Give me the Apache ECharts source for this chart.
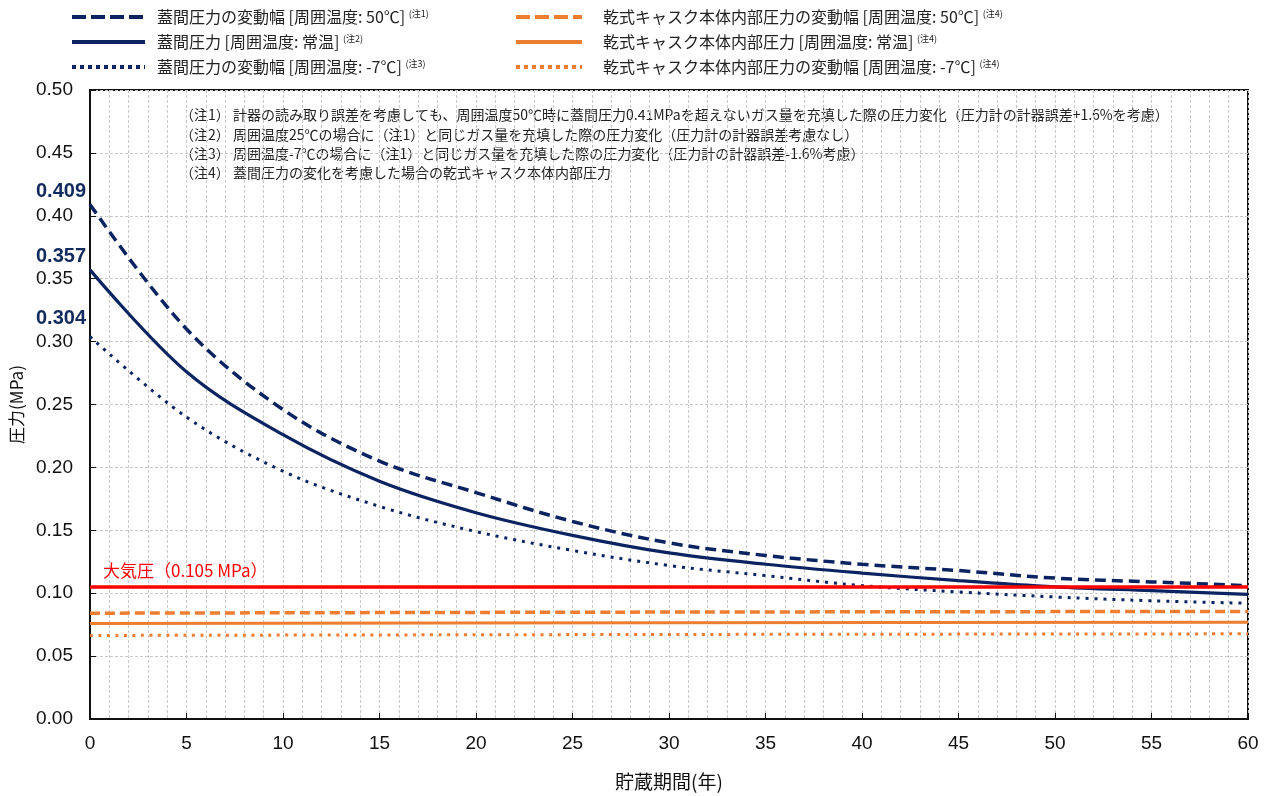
<!DOCTYPE html>
<html>
<head>
<meta charset="utf-8">
<script src="https://cdn.jsdelivr.net/npm/echarts@6/dist/echarts.min.js"></script>
<style>
html,body{margin:0;padding:0;background:#fff;}
#main{width:1275px;height:796px;}
</style>
</head>
<body>
<div id="main"></div>
<script>
// ---- data ----
const years = [0, 5, 10, 15, 20, 25, 30, 35, 40, 45, 50, 55, 60];
const lidHigh = [0.409, 0.310, 0.246, 0.205, 0.180, 0.157, 0.140, 0.130, 0.123, 0.118, 0.112, 0.109, 0.106];
const lidNormal = [0.357, 0.276, 0.226, 0.189, 0.164, 0.146, 0.132, 0.123, 0.116, 0.110, 0.105, 0.102, 0.099];
const lidLow = [0.304, 0.240, 0.197, 0.169, 0.149, 0.134, 0.122, 0.114, 0.106, 0.101, 0.097, 0.094, 0.092];
const caskYears = [0, 30, 60];
const caskHigh = [0.0841, 0.0850, 0.0855];
const caskNormal = [0.0759, 0.0766, 0.0770];
const caskLow = [0.0664, 0.0672, 0.0677];
const atmYears = [0, 60];
const atmValue = [0.105, 0.105];
const startLabels = [0.409, 0.357, 0.304];
const yTicks = [0, 0.05, 0.10, 0.15, 0.20, 0.25, 0.30, 0.35, 0.40, 0.45, 0.50];

const names = {
  lidHigh: '蓋間圧力の変動幅 [周囲温度: 50℃]',
  lidNormal: '蓋間圧力 [周囲温度: 常温]',
  lidLow: '蓋間圧力の変動幅 [周囲温度: -7℃]',
  caskHigh: '乾式キャスク本体内部圧力の変動幅 [周囲温度: 50℃]',
  caskNormal: '乾式キャスク本体内部圧力 [周囲温度: 常温]',
  caskLow: '乾式キャスク本体内部圧力の変動幅 [周囲温度: -7℃]'
};
const sups = {};
sups[names.lidHigh] = '(注1)';
sups[names.lidNormal] = '(注2)';
sups[names.lidLow] = '(注3)';
sups[names.caskHigh] = '(注4)';
sups[names.caskNormal] = '(注4)';
sups[names.caskLow] = '(注4)';

const notes = [
  '（注1） 計器の読み取り誤差を考慮しても、周囲温度50℃時に蓋間圧力0.41MPaを超えないガス量を充填した際の圧力変化（圧力計の計器誤差+1.6%を考慮）',
  '（注2） 周囲温度25℃の場合に（注1）と同じガス量を充填した際の圧力変化（圧力計の計器誤差考慮なし）',
  '（注3） 周囲温度-7℃の場合に（注1）と同じガス量を充填した際の圧力変化（圧力計の計器誤差-1.6%考慮）',
  '（注4） 蓋間圧力の変化を考慮した場合の乾式キャスク本体内部圧力'
];

const NAVY = '#0B2461';
const ORANGE = '#ED7D31';
const FONT = '"Liberation Sans", Arial, "Noto Sans CJK JP", sans-serif';
const JFONT = '"Noto Sans CJK JP", "Liberation Sans", sans-serif';

const pair = (xs, ys) => xs.map((x, i) => [x, ys[i]]);

function lineSeries(name, xs, ys, color, type, width) {
  return {
    name: name, type: 'line', data: pair(xs, ys), smooth: 0.35,
    showSymbol: false, symbol: 'none', z: 3,
    lineStyle: { color: color, width: width, type: type, cap: 'butt' },
    itemStyle: { color: color }
  };
}

const legendItem = (name, type) => ({ name: name, lineStyle: { width: 4, type: type } });
const legendFormatter = n => n + ' {sup|' + sups[n] + '}';
const legendRich = {
  sup: { fontSize: 9, fontFamily: JFONT, color: '#222', verticalAlign: 'top', lineHeight: 12, padding: [0, 0, 6, 0] }
};

const chart = echarts.init(document.getElementById('main'));
chart.setOption({
  animation: false,
  backgroundColor: '#fff',
  textStyle: { fontFamily: FONT },
  grid: { left: 90, right: 27, top: 90, bottom: 76, show: true, borderColor: '#111', borderWidth: 2, containLabel: false },
  legend: [
    {
      left: 65, top: 4, orient: 'vertical', itemWidth: 73, itemHeight: 14, itemGap: 9,
      data: [legendItem(names.lidHigh, [14, 5]), legendItem(names.lidNormal, 'solid'), legendItem(names.lidLow, [4, 4])],
      formatter: legendFormatter,
      itemStyle: { opacity: 0 },
      textStyle: { fontFamily: JFONT, fontSize: 16, color: '#222', padding: [0, 0, 0, 7], rich: legendRich }
    },
    {
      left: 509, top: 4, orient: 'vertical', itemWidth: 66, itemHeight: 14, itemGap: 9,
      data: [legendItem(names.caskHigh, [14, 5]), legendItem(names.caskNormal, 'solid'), legendItem(names.caskLow, [4, 4])],
      formatter: legendFormatter,
      itemStyle: { opacity: 0 },
      textStyle: { fontFamily: JFONT, fontSize: 16, color: '#222', padding: [0, 0, 0, 16], rich: legendRich }
    }
  ],
  xAxis: {
    type: 'value', min: 0, max: 60, interval: 5,
    name: '貯蔵期間(年)', nameLocation: 'middle', nameGap: 53,
    nameTextStyle: { fontFamily: JFONT, fontSize: 19, color: '#111' },
    axisLine: { show: true, lineStyle: { color: '#111', width: 2 } },
    axisTick: { show: true, inside: true, length: 6, lineStyle: { color: '#111' } },
    axisLabel: { fontSize: 19, color: '#111', margin: 15, fontFamily: FONT },
    splitLine: { show: true, lineStyle: { color: '#C8C8C8', type: [3, 2], width: 1 } },
    minorTick: { show: false, splitNumber: 5 },
    minorSplitLine: { show: true, lineStyle: { color: '#C8C8C8', type: [3, 2], width: 1 } }
  },
  yAxis: {
    type: 'value', min: 0, max: 0.5, interval: 0.05,
    name: '圧力(MPa)', nameLocation: 'middle', nameGap: 63,
    nameTextStyle: { fontFamily: JFONT, fontSize: 17, color: '#111' },
    axisLine: { show: true, lineStyle: { color: '#111', width: 2 } },
    axisTick: { show: true, inside: true, length: 6, lineStyle: { color: '#111' } },
    axisLabel: {
      fontSize: 19, color: '#111', margin: 17, fontFamily: FONT,
      formatter: v => (yTicks.some(t => Math.abs(t - v) < 1e-9) ? v.toFixed(2) : '')
    },
    splitLine: { show: true, lineStyle: { color: '#C8C8C8', type: [3, 2], width: 1 } }
  },
  series: [
    lineSeries(names.lidHigh, years, lidHigh, NAVY, [11, 6], 3.5),
    lineSeries(names.lidNormal, years, lidNormal, NAVY, 'solid', 3.2),
    lineSeries(names.lidLow, years, lidLow, NAVY, [3, 6], 3),
    lineSeries(names.caskHigh, caskYears, caskHigh, ORANGE, [10, 5], 3.5),
    lineSeries(names.caskNormal, caskYears, caskNormal, ORANGE, 'solid', 3),
    lineSeries(names.caskLow, caskYears, caskLow, ORANGE, [3, 5.5], 3),
    {
      name: '大気圧', type: 'line', z: 4, showSymbol: true, symbol: 'circle', symbolSize: 0,
      lineStyle: { color: '#FF0000', width: 3.5 },
      itemStyle: { color: '#FF0000' },
      data: pair(atmYears, atmValue).map((p, i) => i === 0 ? {
        value: p,
        label: {
          show: true, position: 'top', align: 'left', offset: [13, -3],
          formatter: '大気圧（0.105 MPa）', color: '#FF0000', fontSize: 17, fontFamily: JFONT
        }
      } : { value: p })
    },
    {
      name: 'start', type: 'scatter', symbolSize: 0, silent: true, z: 5,
      itemStyle: { color: '#132A5E', opacity: 1 },
      data: startLabels.map((v, i) => ({
        value: [0, v],
        label: {
          show: true, position: 'left', distance: 4,
          offset: [0, i === 2 ? -18 : -13],
          formatter: v.toFixed(3), color: '#132A5E', opacity: 1, fontWeight: 'bold', fontSize: 20, fontFamily: FONT
        }
      }))
    }
  ],
  graphic: [
    {
      type: 'group', left: 172, top: 100, z: 10,
      children: [
        { type: 'rect', shape: { x: 0, y: 0, width: 1016, height: 86 }, style: { fill: '#fff' } },
        ...notes.map((t, i) => ({
          type: 'text', x: 8, y: 8 + i * 19.2,
          style: { text: t, fontSize: 14, fontFamily: JFONT, fill: '#222' }
        }))
      ]
    }
  ]
});
</script>
</body>
</html>
